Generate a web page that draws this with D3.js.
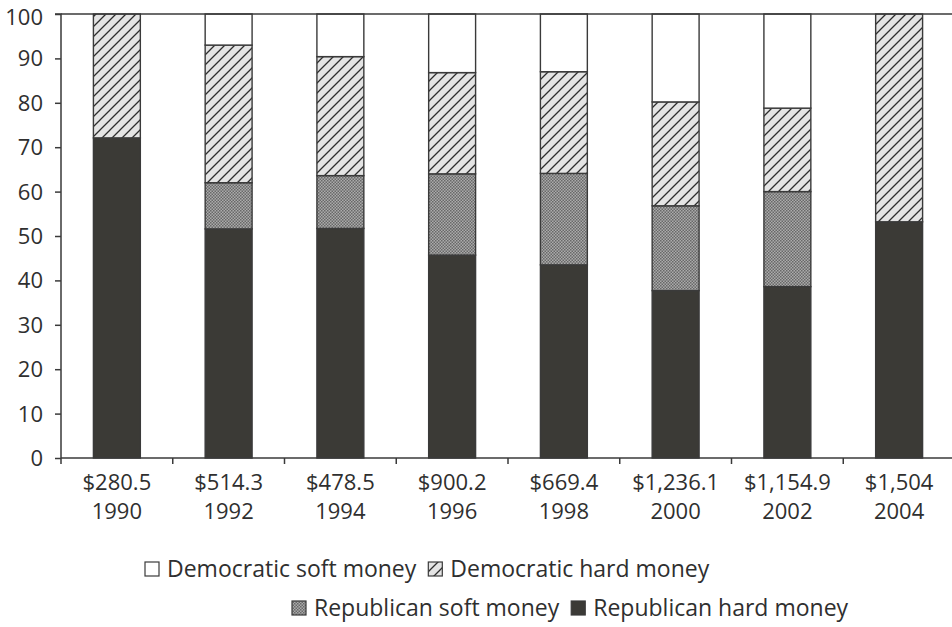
<!DOCTYPE html>
<html>
<head>
<meta charset="utf-8">
<script src="https://cdn.jsdelivr.net/npm/d3@7"></script>
<style>
  html, body { margin: 0; padding: 0; background: #fff; }
  svg { display: block; overflow: visible; }
  text { font-family: "Open Sans", "Noto Sans", sans-serif; fill: #2f2f2f; }
</style>
</head>
<body>
<svg id="chart" width="952" height="627"></svg>
<script>
// ---- data (percent of total party money) ----
const years   = ["1990", "1992", "1994", "1996", "1998", "2000", "2002", "2004"];
const totals  = ["$280.5", "$514.3", "$478.5", "$900.2", "$669.4", "$1,236.1", "$1,154.9", "$1,504"];
const repHard = [72.1, 51.6, 51.7, 45.7, 43.5, 37.7, 38.6, 53.2];
const repSoft = [0, 10.4, 11.9, 18.3, 20.6, 19.1, 21.4, 0];
const demHard = [27.9, 31.0, 26.8, 22.8, 22.9, 23.4, 18.8, 46.8];
const demSoft = [0, 7.0, 9.6, 13.2, 13.0, 19.8, 21.2, 0];
const yTicks  = [0, 10, 20, 30, 40, 50, 60, 70, 80, 90, 100];
const seriesKeys   = ["repHard", "repSoft", "demHard", "demSoft"];
const seriesLabels = {
  demSoft: "Democratic soft money", demHard: "Democratic hard money",
  repSoft: "Republican soft money", repHard: "Republican hard money"
};

(function () {
const rows = years.map((yr, i) => ({
  year: yr, total: totals[i],
  repHard: repHard[i], repSoft: repSoft[i], demHard: demHard[i], demSoft: demSoft[i]
}));

const svg = d3.select("#chart");
const W = 952;
const mLeft = 61, mTop = 14, mBottom = 458, mRight = 955;
const AXFONT = "22px", LGFONT = "23px";

// patterns
const defs = svg.append("defs");
const pSoft = defs.append("pattern").attr("id", "repSoftPat")
  .attr("patternUnits", "userSpaceOnUse").attr("width", 3).attr("height", 3);
pSoft.append("rect").attr("width", 3).attr("height", 3).attr("fill", "#ababab");
pSoft.append("rect").attr("width", 1.5).attr("height", 1.5).attr("fill", "#686868");
pSoft.append("rect").attr("x", 1.5).attr("y", 1.5).attr("width", 1.5).attr("height", 1.5).attr("fill", "#686868");

const pHard = defs.append("pattern").attr("id", "demHardPat")
  .attr("patternUnits", "userSpaceOnUse").attr("width", 10).attr("height", 10);
pHard.append("rect").attr("width", 10).attr("height", 10).attr("fill", "#e4e4e4");
pHard.append("path").attr("d", "M-1,11 L11,-1 M-6,6 L6,-6 M4,16 L16,4")
  .attr("stroke", "#2e2e2e").attr("stroke-width", 1.3);

const fills = {
  repHard: "#3b3a36",
  repSoft: "url(#repSoftPat)",
  demHard: "url(#demHardPat)",
  demSoft: "#ffffff"
};

const x = d3.scaleBand().domain(years).range([mLeft, mRight])
  .paddingInner(0.58).paddingOuter(0.29);
const y = d3.scaleLinear().domain([0, 100]).range([mBottom, mTop]);

const stacked = d3.stack().keys(seriesKeys)(rows);

svg.append("g").selectAll("g.series").data(stacked).join("g")
  .attr("class", "series")
  .attr("fill", d => fills[d.key])
  .selectAll("rect").data(d => d.filter(p => p[1] - p[0] > 0)).join("rect")
  .attr("x", d => x(d.data.year))
  .attr("width", x.bandwidth())
  .attr("y", d => y(d[1]))
  .attr("height", d => y(d[0]) - y(d[1]))
  .attr("stroke", "#3a3a3a").attr("stroke-width", 1.4);

// top frame line
svg.append("line").attr("x1", mLeft).attr("x2", W).attr("y1", mTop).attr("y2", mTop)
  .attr("stroke", "#3a3a3a").attr("stroke-width", 1.5);

// y axis
const yAxis = svg.append("g").attr("transform", `translate(${mLeft},0)`)
  .call(d3.axisLeft(y).tickValues(yTicks).tickSize(6).tickPadding(12));
yAxis.select(".domain").attr("stroke", "#3a3a3a").attr("stroke-width", 1.5)
  .attr("d", `M-6,${mTop}H0V${mBottom + 6}`);
yAxis.selectAll(".tick line").attr("stroke", "#3a3a3a").attr("stroke-width", 1.5);
yAxis.selectAll(".tick text").style("font-size", AXFONT).attr("fill", "#2f2f2f")
  .style("font-family", '"Open Sans", "Noto Sans", sans-serif')
  .attr("dy", d => d === 100 ? "0.48em" : "0.34em");

// x axis line with ticks at band boundaries
svg.append("line").attr("x1", mLeft).attr("x2", W).attr("y1", mBottom).attr("y2", mBottom)
  .attr("stroke", "#3a3a3a").attr("stroke-width", 1.5);
const step = x.step();
const boundaries = years.map(yr => x(yr) - step * x.paddingInner() / 2);
svg.append("g").selectAll("line").data(boundaries.slice(1)).join("line")
  .attr("x1", d => d).attr("x2", d => d).attr("y1", mBottom).attr("y2", mBottom + 6)
  .attr("stroke", "#3a3a3a").attr("stroke-width", 1.5);

// x labels: dollar total line and year line
const cx = d => x(d.year) + x.bandwidth() / 2;
svg.append("g").selectAll("text").data(rows).join("text")
  .attr("text-anchor", "middle").style("font-size", AXFONT)
  .attr("x", cx).attr("y", 490).text(d => d.total);
svg.append("g").selectAll("text").data(rows).join("text")
  .attr("text-anchor", "middle").style("font-size", AXFONT)
  .attr("x", cx).attr("y", 519).text(d => d.year);

// legend
const legendRows = [
  { x: 145, baseline: 577, keys: ["demSoft", "demHard"] },
  { x: 292, baseline: 616, keys: ["repSoft", "repHard"] }
];
const box = 14;
legendRows.forEach(r => {
  let px = r.x;
  r.keys.forEach(k => {
    svg.append("rect").attr("x", px).attr("y", r.baseline - box - 1)
      .attr("width", box).attr("height", box)
      .attr("fill", fills[k]).attr("stroke", "#3a3a3a").attr("stroke-width", 1.2);
    const t = svg.append("text").attr("x", px + box + 8).attr("y", r.baseline)
      .style("font-size", LGFONT).text(seriesLabels[k]);
    px = px + box + 8 + t.node().getComputedTextLength() + 12;
  });
});
})();
</script>
</body>
</html>
